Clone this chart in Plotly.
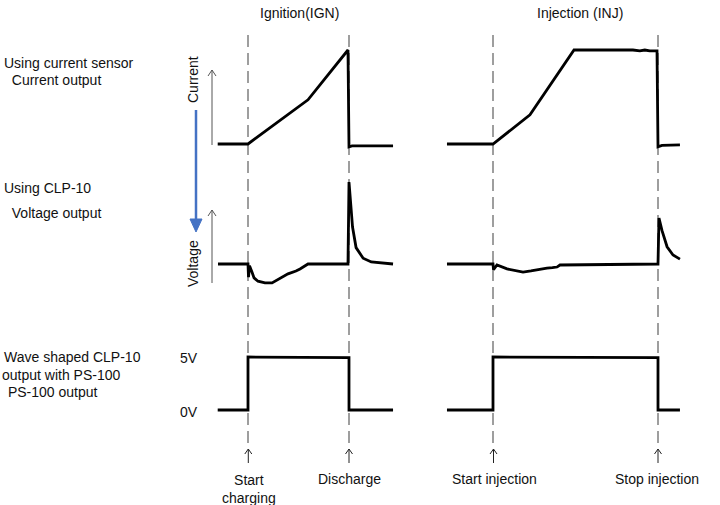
import plotly.graph_objects as go

W, H = 720, 505

# ---------------- data (time units: charge/injection start = 0, discharge/stop = 10) -------------
# Ignition (IGN)
ign_cur_t = [-3.0, 0.0, 5.94, 9.9, 10.0, 10.3, 14.36]
ign_cur_v = [0.0, 0.0, 0.47, 1.0, -0.03, -0.02, -0.02]

ign_vol_t = [-2.97, 0.0, 0.05, 0.15, 0.4, 0.6, 0.99, 1.68, 2.38, 3.17, 3.96, 4.75, 5.15, 5.94,
             9.9, 10.0, 10.2, 10.35, 10.7, 11.4, 12.2, 13.1, 14.36]
ign_vol_v = [0.0, 0.0, -0.16, -0.02, -0.1, -0.17, -0.21, -0.23, -0.23, -0.17, -0.12, -0.085,
             -0.06, 0.0, 0.0, 1.0, 0.62, 0.45, 0.2, 0.07, 0.025, 0.012, 0.0]

ign_ps_t = [-3.0, 0.0, 0.0, 10.0, 10.0, 14.36]
ign_ps_v = [0.0, 0.0, 5.0, 4.95, 0.0, 0.0]

# Injection (INJ)
inj_cur_t = [-2.79, 0.0, 2.24, 4.91, 8.48, 8.9, 9.2, 9.5, 9.94, 10.0, 10.24, 11.33]
inj_cur_v = [0.0, 0.0, 0.31, 1.0, 1.0, 0.99, 1.0, 0.99, 0.99, -0.03, -0.015, -0.01]

inj_vol_t = [-2.79, 0.0, 0.03, 0.24, 0.85, 1.82, 2.3, 2.67, 3.0, 3.27, 3.6, 3.88, 4.06, 4.97,
             10.0, 10.06, 10.24, 10.55, 10.91, 11.33]
inj_vol_v = [0.0, 0.0, -0.07, -0.012, -0.06, -0.1, -0.085, -0.07, -0.065, -0.05, -0.045,
             -0.037, -0.012, -0.01, 0.0, 0.56, 0.41, 0.21, 0.11, 0.06]

inj_ps_t = [-2.79, 0.0, 0.0, 10.0, 10.0, 11.33]
inj_ps_v = [0.0, 0.0, 5.0, 4.95, 0.0, 0.0]

event_times = [0.0, 10.0]
column_titles = ["Ignition(IGN)", "Injection (INJ)"]
row_labels = [["Using current sensor", "  Current output"],
              ["Using CLP-10", "  Voltage output"],
              ["Wave shaped CLP-10", "output with PS-100", " PS-100 output"]]
axis_names = ["Current", "Voltage"]
level_labels = ["5V", "0V"]
event_labels = [["Start<br>charging", "Discharge"], ["Start injection", "Stop injection"]]

# ---------------- layout geometry (pixels) ----------------
col_geo = {"x": (248.0, 10.1), "x2": (493.0, 16.5)}       # pixel of t=0, pixels per unit
row_geo = {"y": (144.0, 94.0), "y2": (264.0, 82.0), "y3": (410.0, 10.6)}  # pixel of 0, px/unit


def fx(p):
    return p / W


def fy(p):
    return 1 - p / H


FONT = "Liberation Sans, Arial, sans-serif"
INK = "#000000"

fig = go.Figure()

series = [
    ("x", "y", ign_cur_t, ign_cur_v), ("x", "y2", ign_vol_t, ign_vol_v), ("x", "y3", ign_ps_t, ign_ps_v),
    ("x2", "y", inj_cur_t, inj_cur_v), ("x2", "y2", inj_vol_t, inj_vol_v), ("x2", "y3", inj_ps_t, inj_ps_v),
]
for xa, ya, t, v in series:
    fig.add_trace(go.Scatter(x=t, y=v, xaxis=xa, yaxis=ya, mode="lines",
                             line=dict(color=INK, width=2.8), hoverinfo="skip", showlegend=False))

shapes = []
annotations = []

# dashed event lines
for xa in ["x", "x2"]:
    for te in event_times:
        shapes.append(dict(type="line", xref=xa, yref="paper", x0=te, x1=te, y0=fy(443), y1=fy(30),
                           line=dict(color="#7f7f7f", width=1.5, dash="12px,6px"), layer="below"))


def up_arrow(x, y_bot, y_top, hw, hl, color, width):
    path = (f"M {fx(x)} {fy(y_bot)} L {fx(x)} {fy(y_top)} "
            f"M {fx(x - hw)} {fy(y_top + hl)} L {fx(x)} {fy(y_top)} L {fx(x + hw)} {fy(y_top + hl)}")
    return dict(type="path", xref="paper", yref="paper", path=path, line=dict(color=color, width=width))


# small arrows under events
event_px = [[248.3, 349.0], [493.5, 658.0]]
for col in event_px:
    for xp in col:
        shapes.append(up_arrow(xp, 463, 449, 3.5, 5, "#222222", 1))

# axis arrows (Current / Voltage)
shapes.append(up_arrow(212, 145, 70, 4, 6, "#555555", 1))
shapes.append(up_arrow(212, 283, 210, 4, 6, "#555555", 1))

# blue arrow
BLUE = "#4472C4"
shapes.append(dict(type="line", xref="paper", yref="paper", x0=fx(196), x1=fx(196), y0=fy(110), y1=fy(222),
                   line=dict(color=BLUE, width=2.5)))
shapes.append(dict(type="path", xref="paper", yref="paper",
                   path=f"M {fx(190)} {fy(219)} L {fx(202)} {fy(219)} L {fx(196)} {fy(232)} Z",
                   fillcolor=BLUE, line=dict(color=BLUE, width=1)))


def text(s, x, y, xanchor="left", size=14, angle=0):
    annotations.append(dict(text=s, x=fx(x), y=fy(y), xref="paper", yref="paper", showarrow=False,
                            xanchor=xanchor, yanchor="middle", textangle=angle,
                            font=dict(family=FONT, size=size, color="#111111")))


# column titles
text(column_titles[0], 299, 13, "center")
text(column_titles[1], 580, 13, "center")

# row labels
text(row_labels[0][0], 2, 63)
text(row_labels[0][1], 2, 80)
text(row_labels[1][0], 2, 188)
text(row_labels[1][1], 2, 213)
text(row_labels[2][0], 2, 357)
text(row_labels[2][1], 0, 375)
text(row_labels[2][2], 2, 392)

# rotated axis names
text(axis_names[0], 193, 80, "center", angle=-90)
text(axis_names[1], 193, 264, "center", angle=-90)

# levels
text(level_labels[0], 189, 358, "center")
text(level_labels[1], 189, 412, "center")

# event labels
annotations.append(dict(text=event_labels[0][0], x=fx(249), y=fy(470), xref="paper", yref="paper",
                        showarrow=False, xanchor="center", yanchor="top", align="center",
                        font=dict(family=FONT, size=14, color="#111111")))
text(event_labels[0][1], 349, 479, "center")
text(event_labels[1][0], 494, 479, "center")
text(event_labels[1][1], 657, 479, "center")

layout_axes = {}
for name, (x0, s) in col_geo.items():
    key = "xaxis" if name == "x" else "xaxis2"
    ax = dict(range=[(0 - x0) / s, (W - x0) / s], domain=[0, 1], visible=False, fixedrange=True)
    if name != "x":
        ax["overlaying"] = "x"
    layout_axes[key] = ax
for name, (y0, s) in row_geo.items():
    key = "yaxis" if name == "y" else "yaxis" + name[1:]
    ax = dict(range=[(y0 - H) / s, y0 / s], domain=[0, 1], visible=False, fixedrange=True)
    if name != "y":
        ax["overlaying"] = "y"
    layout_axes[key] = ax

fig.update_layout(width=W, height=H, margin=dict(l=0, r=0, t=0, b=0),
                  paper_bgcolor="white", plot_bgcolor="white",
                  shapes=shapes, annotations=annotations, showlegend=False, **layout_axes)

fig.write_html("out.html", config={"displayModeBar": False},
               post_script="document.body.style.margin='0px';document.body.style.overflow='hidden';")
